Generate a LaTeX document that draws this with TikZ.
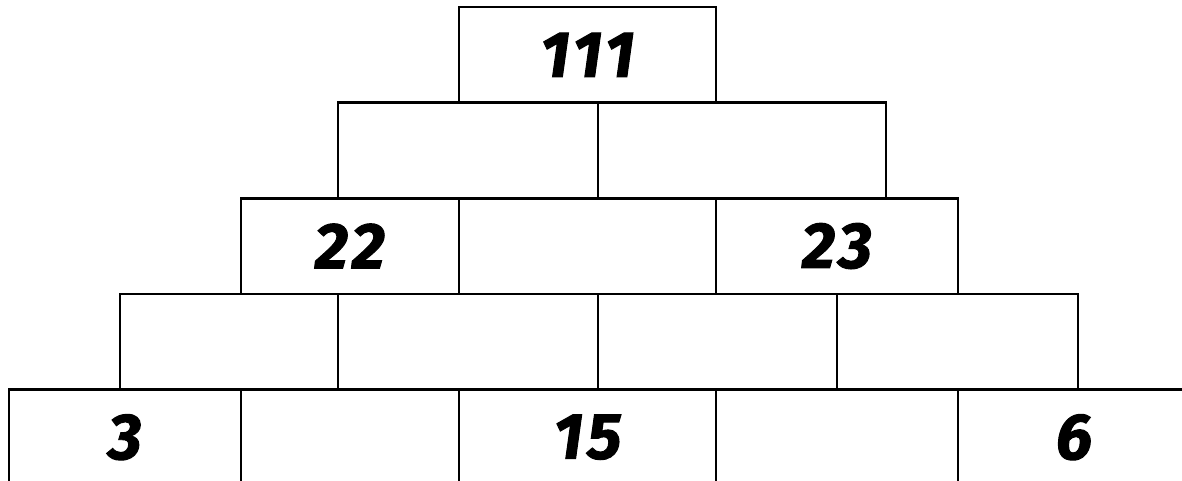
\documentclass[tikz,border=0pt]{standalone}
\usepackage{fontspec}
\usepackage{tikz}
\usetikzlibrary{positioning}
\newfontfamily\brickfont{Fira Sans}[BoldItalicFeatures={FakeBold=1.5,LetterSpace=6}]

\begin{document}
\begin{tikzpicture}[
  brick/.style={draw,line width=1.5pt,inner sep=0pt,minimum height=1.912cm,
                font=\brickfont\bfseries\itshape\fontsize{37}{40}\selectfont}
]
\useasboundingbox (0,0) rectangle (23.64,9.62);
\clip (0,0) rectangle (23.64,9.62);
% row 5 (bottom)
\node[brick,minimum width=4.64cm] (e1) at (2.50,0.875) {3};
\node[brick,minimum width=4.36cm] (e2) at (7.00,0.875) {};
\node[brick,minimum width=5.14cm] (e3) at (11.75,0.875) {15};
\node[brick,minimum width=4.84cm] (e4) at (16.74,0.875) {};
\node[brick,minimum width=4.64cm] (e5) at (21.48,0.875) {6};
% row 4
\node[brick,minimum width=4.36cm] (d1) at (4.58,2.787) {};
\node[brick,minimum width=5.20cm] (d2) at (9.36,2.787) {};
\node[brick,minimum width=4.78cm] (d3) at (14.35,2.787) {};
\node[brick,minimum width=4.82cm] (d4) at (19.15,2.787) {};
% row 3
\node[brick,minimum width=4.36cm] (c1) at (7.00,4.699) {22};
\node[brick,minimum width=5.14cm] (c2) at (11.75,4.699) {};
\node[brick,minimum width=4.84cm] (c3) at (16.74,4.699) {23};
% row 2
\node[brick,minimum width=5.20cm] (b1) at (9.36,6.611) {};
\node[brick,minimum width=5.76cm] (b2) at (14.84,6.611) {};
% row 1 (top)
\node[brick,minimum width=5.14cm] (a1) at (11.75,8.523) {111};
\end{tikzpicture}
\end{document}
